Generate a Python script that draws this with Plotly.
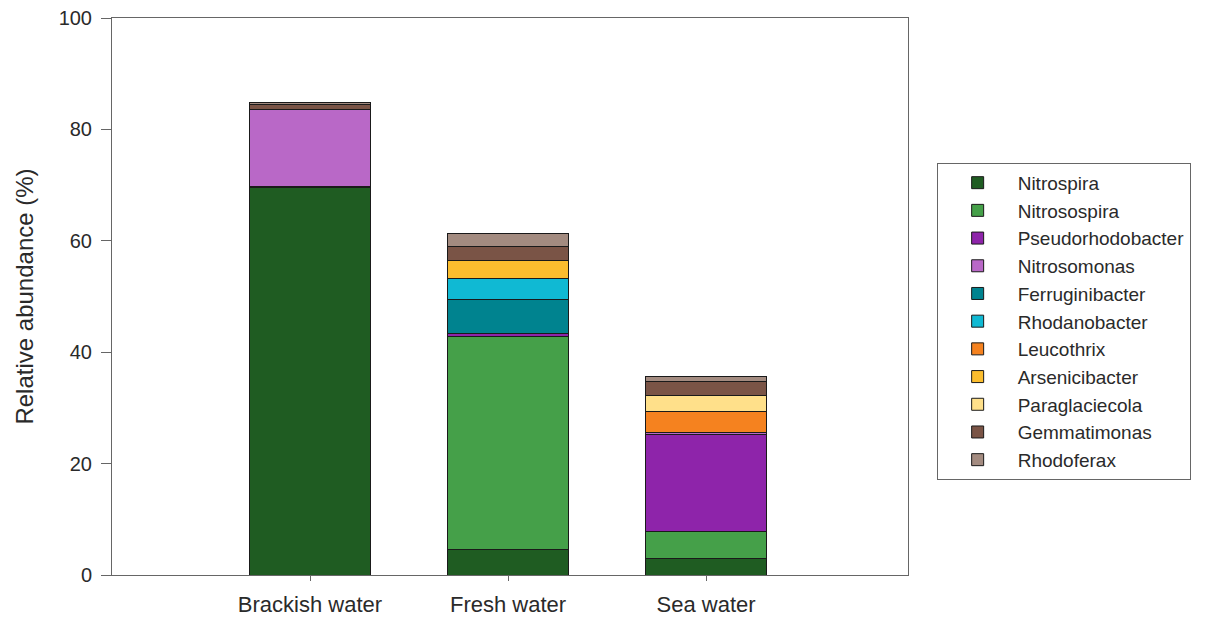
import plotly.graph_objects as go

sites = ["Brackish water", "Fresh water", "Sea water"]

genera = ["Nitrospira", "Nitrosospira", "Pseudorhodobacter", "Nitrosomonas",
          "Ferruginibacter", "Rhodanobacter", "Leucothrix", "Arsenicibacter",
          "Paraglaciecola", "Gemmatimonas", "Rhodoferax"]

colors = ["#1f5c22", "#45a049", "#8e24aa", "#b968c7", "#00838f", "#10b9d3",
          "#f5821f", "#fbbd2e", "#ffe08a", "#7a5446", "#a38b80"]

# relative abundance (%) per genus, one value per site
nitrospira = [69.5, 4.5, 3.0]
nitrosospira = [0.3, 38.3, 4.9]
pseudorhodobacter = [0.0, 0.5, 17.3]
nitrosomonas = [13.8, 0.0, 0.4]
ferruginibacter = [0.0, 6.1, 0.0]
rhodanobacter = [0.0, 3.9, 0.0]
leucothrix = [0.0, 0.0, 3.7]
arsenicibacter = [0.0, 3.1, 0.0]
paraglaciecola = [0.0, 0.0, 2.9]
gemmatimonas = [0.9, 2.5, 2.5]
rhodoferax = [0.3, 2.5, 0.9]

values = [nitrospira, nitrosospira, pseudorhodobacter, nitrosomonas,
          ferruginibacter, rhodanobacter, leucothrix, arsenicibacter,
          paraglaciecola, gemmatimonas, rhodoferax]

fig = go.Figure()
for name, col, vals in zip(genera, colors, values):
    fig.add_trace(go.Bar(
        x=sites, y=vals, name=name, width=0.61,
        marker=dict(color=col, line=dict(color="#1a1a1a", width=1)),
    ))

font_family = "Liberation Sans, Arial, sans-serif"

fig.update_layout(
    barmode="stack",
    width=1209, height=622,
    margin=dict(l=112, r=301, t=18, b=47),
    plot_bgcolor="white", paper_bgcolor="white",
    font=dict(family=font_family, size=20, color="#2a2a2a"),
    showlegend=True,
    legend=dict(
        x=1.036, y=0.740, xanchor="left", yanchor="top",
        traceorder="normal",
        bordercolor="#666666", borderwidth=1,
        font=dict(size=19, color="#2a2a2a"),
        tracegroupgap=0, itemwidth=70,
    ),
    xaxis=dict(
        range=[-1, 3.02], automargin=False,
        showline=True, linecolor="#666666", linewidth=1, mirror=True,
        ticks="outside", ticklen=5, tickcolor="#666666",
        ticklabelstandoff=5,
        showgrid=False, tickfont=dict(size=22),
    ),
    yaxis=dict(
        range=[0, 100], tickvals=[0, 20, 40, 60, 80, 100], automargin=False,
        showline=True, linecolor="#666666", linewidth=1, mirror=True,
        ticks="outside", ticklen=10, tickcolor="#666666",
        ticklabelstandoff=5,
        showgrid=False, zeroline=False, tickfont=dict(size=20),
        title=dict(text="Relative abundance (%)", font=dict(size=24), standoff=18),
    ),
)

fig.write_html("out.html")
